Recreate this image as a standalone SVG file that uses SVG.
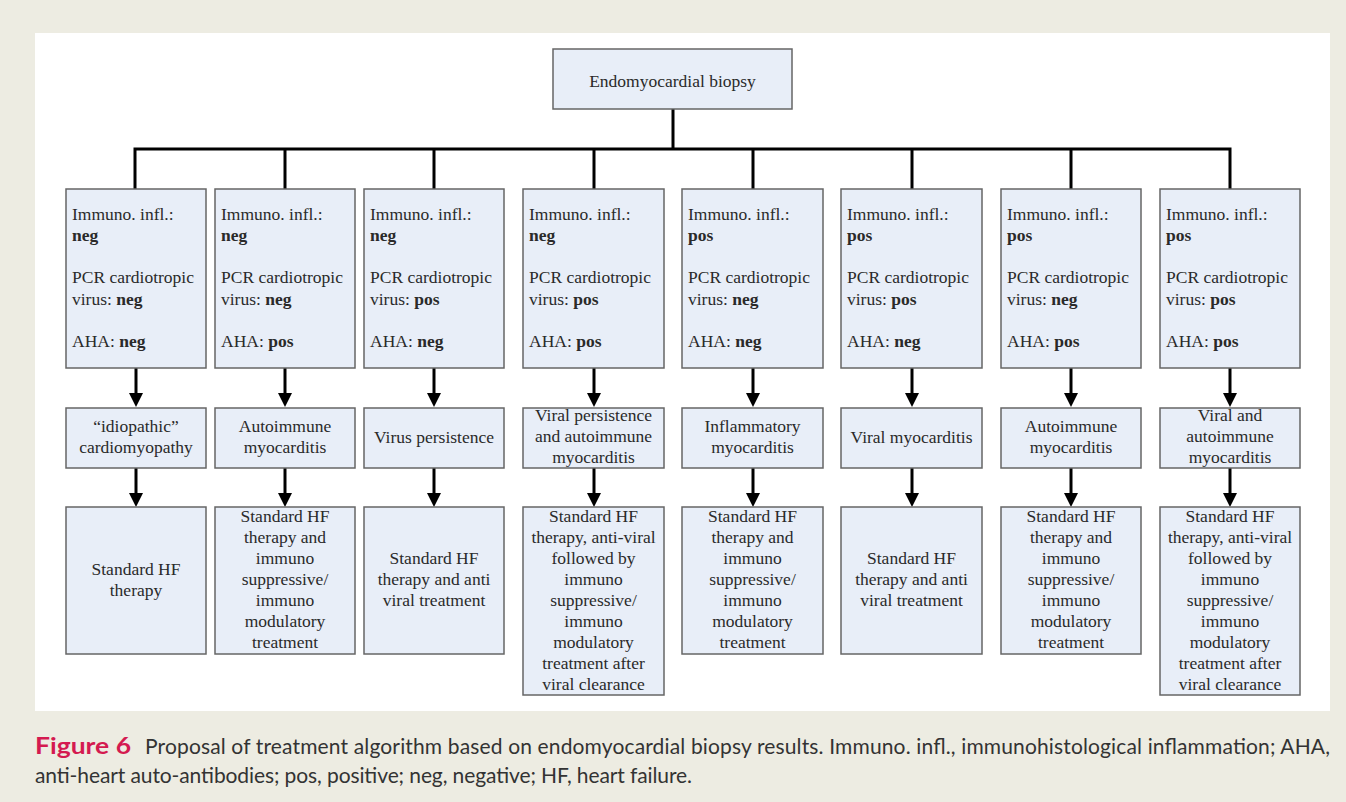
<svg xmlns="http://www.w3.org/2000/svg" width="1346" height="802" viewBox="0 0 1346 802">
<style>
.box{fill:#e8eef8;stroke:#666;stroke-width:1.5}
.t{font-family:"Liberation Serif","Times New Roman",serif;font-size:17.5px;fill:#2a2a2a}
.c{text-anchor:middle}
.b{font-weight:bold}
.ln{stroke:#000;stroke-width:3;fill:none}
.cap{font-family:Lato,"Open Sans",sans-serif;font-size:21px;fill:#333}
.fig{font-family:Lato,"Open Sans",sans-serif;font-size:23px;font-weight:bold;fill:#d41a50}
</style>
<defs>
<marker id="ah" viewBox="0 0 14 14" refX="7" refY="7" markerWidth="14" markerHeight="14" markerUnits="userSpaceOnUse" orient="auto">
<path d="M0,0 L14,7 L0,14 z" fill="#000"/>
</marker>
</defs>
<rect x="0" y="0" width="1346" height="802" fill="#edece2"/>
<rect x="35" y="33" width="1295" height="678" fill="#fff"/>

<g id="connectors">
<path class="ln" d="M673,109 V149 M135,189 V149 H1230 V189 M285,149 V189 M434,149 V189 M594,149 V189 M753,149 V189 M912,149 V189 M1071,149 V189"/>
<g class="ln" marker-end="url(#ah)">
<line x1="136" y1="368" x2="136" y2="400"/><line x1="136" y1="468" x2="136" y2="500"/>
<line x1="285" y1="368" x2="285" y2="400"/><line x1="285" y1="468" x2="285" y2="500"/>
<line x1="434" y1="368" x2="434" y2="400"/><line x1="434" y1="468" x2="434" y2="500"/>
<line x1="594" y1="368" x2="594" y2="400"/><line x1="594" y1="468" x2="594" y2="500"/>
<line x1="753" y1="368" x2="753" y2="400"/><line x1="753" y1="468" x2="753" y2="500"/>
<line x1="912" y1="368" x2="912" y2="400"/><line x1="912" y1="468" x2="912" y2="500"/>
<line x1="1071" y1="368" x2="1071" y2="400"/><line x1="1071" y1="468" x2="1071" y2="500"/>
<line x1="1230" y1="368" x2="1230" y2="400"/><line x1="1230" y1="468" x2="1230" y2="500"/>
</g>
</g>

<g id="root">
<rect class="box" x="553" y="49" width="239" height="60"/>
<text class="t c" x="672.5" y="87">Endomyocardial biopsy</text>
</g>

<!-- Column 1 -->
<g id="c1-test">
<rect class="box" x="66" y="189" width="140" height="179"/>
<text class="t" x="72" y="220">Immuno. infl.:</text>
<text class="t b" x="72" y="241">neg</text>
<text class="t" x="72" y="283">PCR cardiotropic</text>
<text class="t" x="72" y="305">virus: <tspan class="b">neg</tspan></text>
<text class="t" x="72" y="347">AHA: <tspan class="b">neg</tspan></text>
</g>
<g id="c1-dx">
<rect class="box" x="66" y="408" width="140" height="60"/>
<text class="t c" x="136" y="432">“idiopathic”</text>
<text class="t c" x="136" y="453">cardiomyopathy</text>
</g>
<g id="c1-tx">
<rect class="box" x="66" y="507" width="140" height="147"/>
<text class="t c" x="136" y="575">Standard HF</text>
<text class="t c" x="136" y="596">therapy</text>
</g>

<!-- Column 2 -->
<g id="c2-test">
<rect class="box" x="215" y="189" width="140" height="179"/>
<text class="t" x="221" y="220">Immuno. infl.:</text>
<text class="t b" x="221" y="241">neg</text>
<text class="t" x="221" y="283">PCR cardiotropic</text>
<text class="t" x="221" y="305">virus: <tspan class="b">neg</tspan></text>
<text class="t" x="221" y="347">AHA: <tspan class="b">pos</tspan></text>
</g>
<g id="c2-dx">
<rect class="box" x="215" y="408" width="140" height="60"/>
<text class="t c" x="285" y="432">Autoimmune</text>
<text class="t c" x="285" y="453">myocarditis</text>
</g>
<g id="c2-tx">
<rect class="box" x="215" y="507" width="140" height="147"/>
<text class="t c" x="285" y="522">Standard HF</text>
<text class="t c" x="285" y="543">therapy and</text>
<text class="t c" x="285" y="564">immuno</text>
<text class="t c" x="285" y="585">suppressive/</text>
<text class="t c" x="285" y="606">immuno</text>
<text class="t c" x="285" y="627">modulatory</text>
<text class="t c" x="285" y="648">treatment</text>
</g>

<!-- Column 3 -->
<g id="c3-test">
<rect class="box" x="364" y="189" width="140" height="179"/>
<text class="t" x="370" y="220">Immuno. infl.:</text>
<text class="t b" x="370" y="241">neg</text>
<text class="t" x="370" y="283">PCR cardiotropic</text>
<text class="t" x="370" y="305">virus: <tspan class="b">pos</tspan></text>
<text class="t" x="370" y="347">AHA: <tspan class="b">neg</tspan></text>
</g>
<g id="c3-dx">
<rect class="box" x="364" y="408" width="140" height="60"/>
<text class="t c" x="434" y="443">Virus persistence</text>
</g>
<g id="c3-tx">
<rect class="box" x="364" y="507" width="140" height="147"/>
<text class="t c" x="434" y="564">Standard HF</text>
<text class="t c" x="434" y="585">therapy and anti</text>
<text class="t c" x="434" y="606">viral treatment</text>
</g>

<!-- Column 4 -->
<g id="c4-test">
<rect class="box" x="523" y="189" width="141" height="179"/>
<text class="t" x="529" y="220">Immuno. infl.:</text>
<text class="t b" x="529" y="241">neg</text>
<text class="t" x="529" y="283">PCR cardiotropic</text>
<text class="t" x="529" y="305">virus: <tspan class="b">pos</tspan></text>
<text class="t" x="529" y="347">AHA: <tspan class="b">pos</tspan></text>
</g>
<g id="c4-dx">
<rect class="box" x="523" y="408" width="141" height="60"/>
<text class="t c" x="593.5" y="421">Viral persistence</text>
<text class="t c" x="593.5" y="442">and autoimmune</text>
<text class="t c" x="593.5" y="463">myocarditis</text>
</g>
<g id="c4-tx">
<rect class="box" x="523" y="507" width="141" height="188"/>
<text class="t c" x="593.5" y="522">Standard HF</text>
<text class="t c" x="593.5" y="543">therapy, anti-viral</text>
<text class="t c" x="593.5" y="564">followed by</text>
<text class="t c" x="593.5" y="585">immuno</text>
<text class="t c" x="593.5" y="606">suppressive/</text>
<text class="t c" x="593.5" y="627">immuno</text>
<text class="t c" x="593.5" y="648">modulatory</text>
<text class="t c" x="593.5" y="669">treatment after</text>
<text class="t c" x="593.5" y="690">viral clearance</text>
</g>

<!-- Column 5 -->
<g id="c5-test">
<rect class="box" x="682" y="189" width="141" height="179"/>
<text class="t" x="688" y="220">Immuno. infl.:</text>
<text class="t b" x="688" y="241">pos</text>
<text class="t" x="688" y="283">PCR cardiotropic</text>
<text class="t" x="688" y="305">virus: <tspan class="b">neg</tspan></text>
<text class="t" x="688" y="347">AHA: <tspan class="b">neg</tspan></text>
</g>
<g id="c5-dx">
<rect class="box" x="682" y="408" width="141" height="60"/>
<text class="t c" x="752.5" y="432">Inflammatory</text>
<text class="t c" x="752.5" y="453">myocarditis</text>
</g>
<g id="c5-tx">
<rect class="box" x="682" y="507" width="141" height="147"/>
<text class="t c" x="752.5" y="522">Standard HF</text>
<text class="t c" x="752.5" y="543">therapy and</text>
<text class="t c" x="752.5" y="564">immuno</text>
<text class="t c" x="752.5" y="585">suppressive/</text>
<text class="t c" x="752.5" y="606">immuno</text>
<text class="t c" x="752.5" y="627">modulatory</text>
<text class="t c" x="752.5" y="648">treatment</text>
</g>

<!-- Column 6 -->
<g id="c6-test">
<rect class="box" x="841" y="189" width="141" height="179"/>
<text class="t" x="847" y="220">Immuno. infl.:</text>
<text class="t b" x="847" y="241">pos</text>
<text class="t" x="847" y="283">PCR cardiotropic</text>
<text class="t" x="847" y="305">virus: <tspan class="b">pos</tspan></text>
<text class="t" x="847" y="347">AHA: <tspan class="b">neg</tspan></text>
</g>
<g id="c6-dx">
<rect class="box" x="841" y="408" width="141" height="60"/>
<text class="t c" x="911.5" y="443">Viral myocarditis</text>
</g>
<g id="c6-tx">
<rect class="box" x="841" y="507" width="141" height="147"/>
<text class="t c" x="911.5" y="564">Standard HF</text>
<text class="t c" x="911.5" y="585">therapy and anti</text>
<text class="t c" x="911.5" y="606">viral treatment</text>
</g>

<!-- Column 7 -->
<g id="c7-test">
<rect class="box" x="1001" y="189" width="140" height="179"/>
<text class="t" x="1007" y="220">Immuno. infl.:</text>
<text class="t b" x="1007" y="241">pos</text>
<text class="t" x="1007" y="283">PCR cardiotropic</text>
<text class="t" x="1007" y="305">virus: <tspan class="b">neg</tspan></text>
<text class="t" x="1007" y="347">AHA: <tspan class="b">pos</tspan></text>
</g>
<g id="c7-dx">
<rect class="box" x="1001" y="408" width="140" height="60"/>
<text class="t c" x="1071" y="432">Autoimmune</text>
<text class="t c" x="1071" y="453">myocarditis</text>
</g>
<g id="c7-tx">
<rect class="box" x="1001" y="507" width="140" height="147"/>
<text class="t c" x="1071" y="522">Standard HF</text>
<text class="t c" x="1071" y="543">therapy and</text>
<text class="t c" x="1071" y="564">immuno</text>
<text class="t c" x="1071" y="585">suppressive/</text>
<text class="t c" x="1071" y="606">immuno</text>
<text class="t c" x="1071" y="627">modulatory</text>
<text class="t c" x="1071" y="648">treatment</text>
</g>

<!-- Column 8 -->
<g id="c8-test">
<rect class="box" x="1160" y="189" width="140" height="179"/>
<text class="t" x="1166" y="220">Immuno. infl.:</text>
<text class="t b" x="1166" y="241">pos</text>
<text class="t" x="1166" y="283">PCR cardiotropic</text>
<text class="t" x="1166" y="305">virus: <tspan class="b">pos</tspan></text>
<text class="t" x="1166" y="347">AHA: <tspan class="b">pos</tspan></text>
</g>
<g id="c8-dx">
<rect class="box" x="1160" y="408" width="140" height="60"/>
<text class="t c" x="1230" y="421">Viral and</text>
<text class="t c" x="1230" y="442">autoimmune</text>
<text class="t c" x="1230" y="463">myocarditis</text>
</g>
<g id="c8-tx">
<rect class="box" x="1160" y="507" width="140" height="188"/>
<text class="t c" x="1230" y="522">Standard HF</text>
<text class="t c" x="1230" y="543">therapy, anti-viral</text>
<text class="t c" x="1230" y="564">followed by</text>
<text class="t c" x="1230" y="585">immuno</text>
<text class="t c" x="1230" y="606">suppressive/</text>
<text class="t c" x="1230" y="627">immuno</text>
<text class="t c" x="1230" y="648">modulatory</text>
<text class="t c" x="1230" y="669">treatment after</text>
<text class="t c" x="1230" y="690">viral clearance</text>
</g>

<g id="caption">
<text class="fig" x="35" y="754" textLength="96" lengthAdjust="spacingAndGlyphs">Figure 6</text>
<text class="cap" x="145" y="754" textLength="1185" lengthAdjust="spacing">Proposal of treatment algorithm based on endomyocardial biopsy results. Immuno. infl., immunohistological inflammation; AHA,</text>
<text class="cap" x="35" y="783" textLength="657" lengthAdjust="spacing">anti-heart auto-antibodies; pos, positive; neg, negative; HF, heart failure.</text>
</g>
</svg>
